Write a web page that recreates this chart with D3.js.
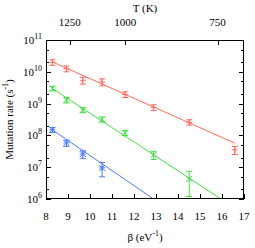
<!DOCTYPE html>
<html>
<head>
<meta charset="utf-8">
<script src="https://cdn.jsdelivr.net/npm/d3@7"></script>
<style>
  body { margin: 0; background: #fff; }
  svg text { font-family: "Liberation Serif", "DejaVu Serif", serif; fill: #000; }
</style>
</head>
<body>
<svg id="chart" width="255" height="248"></svg>
<script>
"use strict";

// measured temperatures (K) and inverse thermal energy beta (1/eV)
const TEMPS = [1400, 1300, 1200, 1100, 1000, 900, 800, 700];
const BETAS = [8.29, 8.93, 9.67, 10.55, 11.60, 12.89, 14.51, 16.58];

const RED_RATE = [2.0e10, 1.26e10, 5.4e9, 4.8e9, 1.95e9, 7.6e8, 2.6e8, 3.5e7];
const RED_ERR = [4e9, 2.6e9, 1.3e9, 1.2e9, 4e8, 1.6e8, 5e7, 1e7];
const GREEN_RATE = [3.0e9, 1.3e9, 6.3e8, 3.2e8, 1.2e8, 2.45e7, 4.3e6];
const GREEN_ERR = [5e8, 2.5e8, 1.1e8, 6e7, 2.2e7, 7e6, 3.1e6];
const BLUE_RATE = [1.5e8, 5.8e7, 2.6e7, 9.5e6];
const BLUE_ERR = [2.6e7, 1.3e7, 7e6, 4.5e6];

// fitted Arrhenius lines, [beta, rate] at both ends
const RED_FIT = [[8.29, 2.05e10], [16.58, 5.7e7]];
const GREEN_FIT = [[8.29, 3.0e9], [16.58, 5.2e5]];
const BLUE_FIT = [[8.29, 1.5e8], [16.58, 1.8e4]];

const X_TICKS = [8, 9, 10, 11, 12, 13, 14, 15, 16, 17];
const Y_TICKS = [1e6, 1e7, 1e8, 1e9, 1e10, 1e11];
const T_TICKS = [1250, 1000, 750];
const T_RANGE = [1400, 700];

const COLORS = { red: "#ff6a5a", green: "#3fe03f", blue: "#4a7cff" };

const M = { left: 46, right: 244, top: 40, bottom: 199 };
const svg = d3.select("#chart");

const x = d3.scaleLinear().domain([8, 17]).range([M.left, M.right]);
const y = d3.scaleLog().domain([1e6, 1e11]).range([M.bottom, M.top]);
const xTop = d3.scaleLinear().domain(T_RANGE.map(t => 1 / t)).range([M.left, M.right]);

svg.append("clipPath").attr("id", "plot-clip")
  .append("rect")
  .attr("x", M.left).attr("y", M.top)
  .attr("width", M.right - M.left).attr("height", M.bottom - M.top);

// minor y ticks at 2 and 5 of each decade
const minorY = [];
for (let e = 6; e < 11; e++) minorY.push(2 * 10 ** e, 5 * 10 ** e);

const ticks = svg.append("g").attr("stroke", "#000").attr("stroke-width", 1);
Y_TICKS.forEach(v => {
  const py = Math.round(y(v)) + 0.5;
  ticks.append("line").attr("x1", M.left).attr("x2", M.left + 5).attr("y1", py).attr("y2", py);
  ticks.append("line").attr("x1", M.right).attr("x2", M.right - 5).attr("y1", py).attr("y2", py);
});
minorY.forEach(v => {
  const py = Math.round(y(v)) + 0.5;
  ticks.append("line").attr("x1", M.left).attr("x2", M.left + 3).attr("y1", py).attr("y2", py);
  ticks.append("line").attr("x1", M.right).attr("x2", M.right - 3).attr("y1", py).attr("y2", py);
});
X_TICKS.forEach(v => {
  const px = Math.round(x(v)) + 0.5;
  ticks.append("line").attr("x1", px).attr("x2", px).attr("y1", M.bottom).attr("y2", M.bottom - 5);
});
T_TICKS.forEach(t => {
  const px = Math.round(xTop(1 / t)) + 0.5;
  ticks.append("line").attr("x1", px).attr("x2", px).attr("y1", M.top).attr("y2", M.top + 5);
});

// tick labels
svg.append("g").selectAll("text").data(X_TICKS).join("text")
  .attr("x", d => x(d)).attr("y", 220)
  .attr("text-anchor", "middle").attr("font-size", 11)
  .text(d => d);

svg.append("g").selectAll("text").data(T_TICKS).join("text")
  .attr("x", d => xTop(1 / d)).attr("y", 26)
  .attr("text-anchor", "middle").attr("font-size", 11)
  .text(d => d);

const yl = svg.append("g").selectAll("text").data(Y_TICKS).join("text")
  .attr("x", 42).attr("y", d => y(d) + 4)
  .attr("text-anchor", "end").attr("font-size", 11);
yl.append("tspan").text("10");
yl.append("tspan").attr("font-size", 8).attr("dy", -5).text(d => Math.round(Math.log10(d)));

// axis titles
svg.append("text").attr("x", (M.left + M.right) / 2).attr("y", 12)
  .attr("text-anchor", "middle").attr("font-size", 11).text("T (K)");

const xl = svg.append("text").attr("x", (M.left + M.right) / 2).attr("y", 241)
  .attr("text-anchor", "middle").attr("font-size", 11);
xl.append("tspan").text("β (eV");
xl.append("tspan").attr("font-size", 8).attr("dy", -5).text("-1");
xl.append("tspan").attr("dy", 5).text(")");

const ylab = svg.append("text")
  .attr("transform", `translate(13,${(M.top + M.bottom) / 2}) rotate(-90)`)
  .attr("text-anchor", "middle").attr("font-size", 11);
ylab.append("tspan").text("Mutation rate (s");
ylab.append("tspan").attr("font-size", 8).attr("dy", -5).text("-1");
ylab.append("tspan").attr("dy", 5).text(")");

// series
const plot = svg.append("g").attr("clip-path", "url(#plot-clip)");
const line = d3.line().x(d => x(d[0])).y(d => y(d[1]));

function drawSeries(rates, errs, fit, color, marker) {
  plot.append("path").attr("d", line(fit))
    .attr("fill", "none").attr("stroke", color).attr("stroke-width", 1);

  const g = plot.append("g").attr("stroke", color).attr("stroke-width", 1).attr("fill", "none");
  rates.forEach((r, i) => {
    const px = x(BETAS[i]);
    const py = y(r);
    const hi = y(r + errs[i]);
    const lo = y(Math.max(r - errs[i], 1));
    g.append("line").attr("x1", px).attr("x2", px).attr("y1", hi).attr("y2", lo);
    g.append("line").attr("x1", px - 3).attr("x2", px + 3).attr("y1", hi).attr("y2", hi);
    g.append("line").attr("x1", px - 3).attr("x2", px + 3).attr("y1", lo).attr("y2", lo);
    const s = 3;
    if (marker !== "x") {
      g.append("line").attr("x1", px - s).attr("x2", px + s).attr("y1", py).attr("y2", py);
      g.append("line").attr("x1", px).attr("x2", px).attr("y1", py - s).attr("y2", py + s);
    }
    if (marker !== "+") {
      g.append("line").attr("x1", px - s).attr("x2", px + s).attr("y1", py - s).attr("y2", py + s);
      g.append("line").attr("x1", px - s).attr("x2", px + s).attr("y1", py + s).attr("y2", py - s);
    }
  });
}

drawSeries(RED_RATE, RED_ERR, RED_FIT, COLORS.red, "+");
drawSeries(GREEN_RATE, GREEN_ERR, GREEN_FIT, COLORS.green, "x");
drawSeries(BLUE_RATE, BLUE_ERR, BLUE_FIT, COLORS.blue, "*");

// frame
svg.append("rect")
  .attr("x", M.left + 0.5).attr("y", M.top + 0.5)
  .attr("width", M.right - M.left - 1).attr("height", M.bottom - M.top - 1)
  .attr("fill", "none").attr("stroke", "#000").attr("stroke-width", 1);
</script>
</body>
</html>
